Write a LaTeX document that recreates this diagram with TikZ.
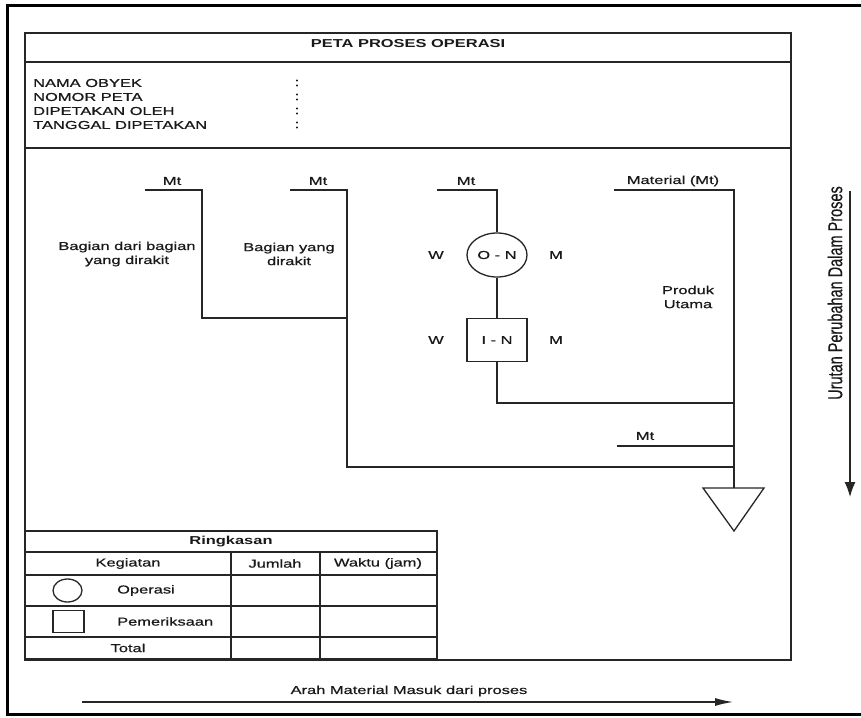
\documentclass[tikz,border=0pt]{standalone}
\usepackage{fontspec}
\setmainfont{Liberation Sans}[FakeStretch=1.43, UprightFeatures={FakeBold=0.6}]
\newfontfamily\rotfont{Liberation Sans}[FakeBold=0.4]
\usetikzlibrary{shapes.geometric,arrows.meta}
\begin{document}
\begin{tikzpicture}[x=1pt,y=-1pt,
  ln/.style={draw=black!85, line width=1.3pt},
  txt/.style={font=\fontsize{11.5}{14}\selectfont, inner sep=0pt, text=black!90, align=center},
  btxt/.style={font=\fontsize{11.5}{14}\selectfont\bfseries, inner sep=0pt, text=black!90, align=center},
  ltxt/.style={txt, anchor=west, align=left},
  opsym/.style={ln, ellipse, minimum width=60pt, minimum height=44pt, inner sep=0pt},
  inspsym/.style={ln, rectangle, minimum width=60pt, minimum height=43pt, inner sep=0pt},
  arr/.style={ln, line width=1.3pt},
]
\useasboundingbox (0,0) rectangle (861,717);
\fill[white] (0,0) rectangle (861,717);

% outer thick frame (cut at right edge)
\coordinate (ofa) at (861,6);
\coordinate (ofb) at (7,6);
\coordinate (ofc) at (7,714);
\coordinate (ofd) at (861,714);
\draw[black, line width=3pt] (ofa) -- (ofb) -- (ofc) -- (ofd);

% inner frame
\coordinate (ifa) at (25,33);
\coordinate (ifb) at (791,660);
\draw[ln] (ifa) rectangle (ifb);
\coordinate (s1a) at (25,62);  \coordinate (s1b) at (791,62);
\coordinate (s2a) at (25,148); \coordinate (s2b) at (791,148);
\draw[ln] (s1a) -- (s1b);
\draw[ln] (s2a) -- (s2b);

\node[btxt] (title) at (408,44) {PETA PROSES OPERASI};

\node[ltxt] (i1) at (33,83) {NAMA OBYEK};
\node[ltxt] (i2) at (33,97) {NOMOR PETA};
\node[ltxt] (i3) at (33,111) {DIPETAKAN OLEH};
\node[ltxt] (i4) at (33,125) {TANGGAL DIPETAKAN};
\node[txt] (c1) at (297,83) {:};
\node[txt] (c2) at (297,97) {:};
\node[txt] (c3) at (297,111) {:};
\node[txt] (c4) at (297,125) {:};

% flow: coordinates
\coordinate (m1s) at (145,190); \coordinate (m1c) at (202,190); \coordinate (j1) at (202,318);
\coordinate (m2s) at (290,190); \coordinate (m2c) at (347,190); \coordinate (j2) at (347,318);
\coordinate (j4) at (347,467);
\coordinate (m3s) at (437,190); \coordinate (m3c) at (497,190);
\coordinate (j3) at (497,403);
\coordinate (m4s) at (614,190); \coordinate (m4c) at (734,190);
\coordinate (k3) at (734,403);
\coordinate (m5s) at (617,446); \coordinate (k5) at (734,446);
\coordinate (k4) at (734,467);
\coordinate (ta) at (703,488); \coordinate (tt) at (734,488);
\coordinate (tb) at (764,488); \coordinate (tc) at (734,531);

\node[txt] (mt1) at (172,181) {Mt};
\node[txt] (mt2) at (318,181) {Mt};
\node[txt] (mt3) at (466,181) {Mt};
\node[txt] (mt4) at (673,181) {Material (Mt)};
\node[txt] (mt5) at (645,436) {Mt};

\node[txt] (bg1) at (127,254) {Bagian dari bagian\\yang dirakit};
\node[txt] (bg2) at (289,254) {Bagian yang\\dirakit};
\node[txt] (pu) at (688,297) {Produk\\Utama};

\node[opsym] (op) at (497,255) {};
\node[txt] (opl) at (op) {O - N};
\node[inspsym] (insp) at (497,340) {};
\node[txt] (inl) at (insp) {I - N};
\node[txt] (w1) at (436,255) {W};
\node[txt] (mm1) at (556,255) {M};
\node[txt] (w2) at (436,340) {W};
\node[txt] (mm2) at (556,340) {M};

\draw[ln] (m1s) -- (m1c) -- (j1) -- (j2);
\draw[ln] (m2s) -- (m2c) -- (j4) -- (k4);
\draw[ln] (m3s) -- (m3c) -- (op.north);
\draw[ln] (op.south) -- (insp.north);
\draw[ln] (insp.south) -- (j3) -- (k3);
\draw[ln] (m4s) -- (m4c) -- (tt);
\draw[ln] (m5s) -- (k5);
\draw[ln] (ta) -- (tb) -- (tc) -- cycle;

% right direction arrow
\coordinate (ra) at (850,191); \coordinate (rb) at (850,497);
\draw[arr, -{Latex[length=15pt,width=11pt]}] (ra) -- (rb);
\node[inner sep=0pt, text=black!90] (rt) at (835,293) {\scalebox{1.38}[1]{\rotatebox{90}{\fontsize{14.5}{16}\rotfont Urutan Perubahan Dalam Proses}}};

% bottom arrow
\coordinate (ba) at (82,702); \coordinate (bb) at (733,702);
\draw[arr, -{Latex[length=18pt,width=8pt]}] (ba) -- (bb);
\node[txt] (bt) at (409,691) {Arah Material Masuk dari proses};

% summary table
\coordinate (tA) at (25,531); \coordinate (tB) at (437,659);
\draw[ln] (tA) rectangle (tB);
\foreach \yy in {552,575,606,637} { \draw[ln] (25,\yy) -- (437,\yy); }
\draw[ln] (231,552) -- (231,659);
\draw[ln] (320,552) -- (320,659);
\node[btxt] (rk) at (231,541.5) {Ringkasan};
\node[txt] (kg) at (128,563.5) {Kegiatan};
\node[txt] (jm) at (275,563.5) {Jumlah};
\node[txt] (wk) at (378,563.5) {Waktu (jam)};
\node[ln, ellipse, minimum width=29pt, minimum height=23pt, inner sep=0pt] (sop) at (67.5,590.5) {};
\node[ltxt] (top) at (117,590.5) {Operasi};
\node[ln, rectangle, minimum width=31pt, minimum height=22pt, inner sep=0pt] (sin) at (68.5,621.5) {};
\node[ltxt] (tin) at (117,621.5) {Pemeriksaan};
\node[txt] (tot) at (128,648) {Total};
\end{tikzpicture}
\end{document}
